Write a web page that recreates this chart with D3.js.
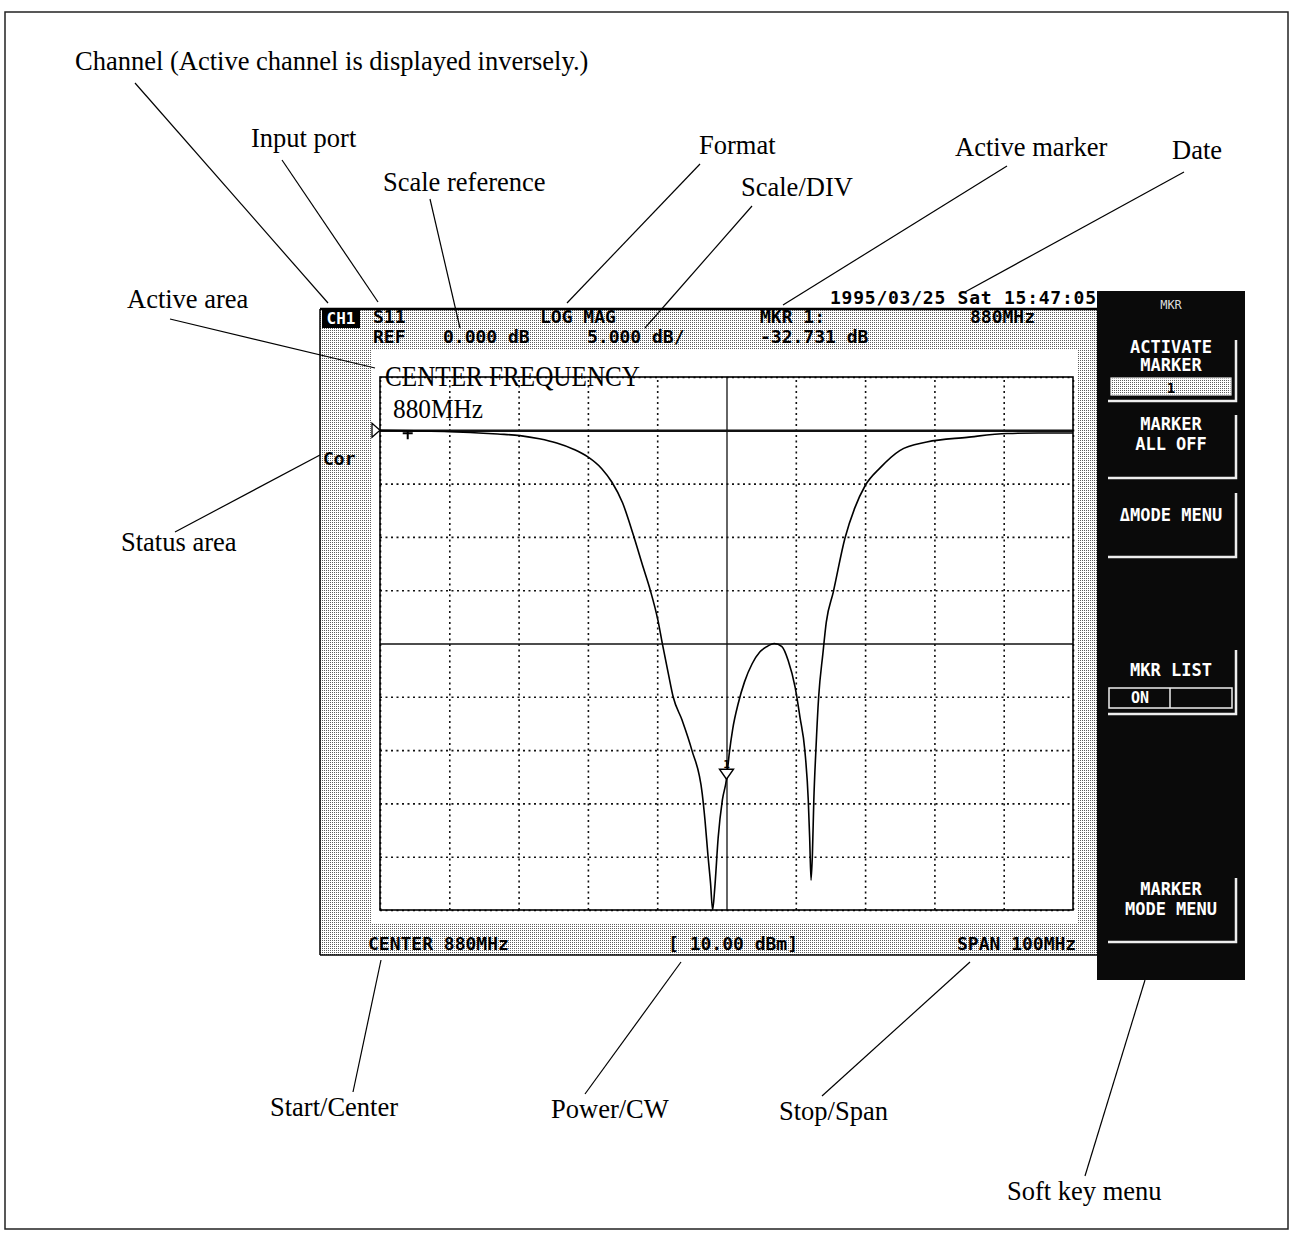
<!DOCTYPE html>
<html>
<head>
<meta charset="utf-8">
<script src="https://cdn.jsdelivr.net/npm/d3@7"></script>
<style>
  body { margin: 0; background: #fff; }
</style>
</head>
<body>
<div id="chart"></div>
<script>
// S11 trace, LOG MAG, center 880 MHz, span 100 MHz
var freqMHz = [830.0, 835.0, 840.0, 843.0, 847.0, 850.2, 853.0, 855.5, 858.0, 860.0,
  862.0, 863.5, 865.0, 866.5, 868.0, 869.0, 870.1, 870.8, 871.6, 872.3,
  873.6, 875.0, 876.5, 876.9, 877.3, 877.7, 878.0, 878.3, 878.8, 879.4,
  880.0, 880.4, 880.9, 881.7, 882.6, 883.7, 884.8, 885.8, 886.9, 888.0, 888.9,
  889.9, 890.6, 891.3, 891.8, 892.0, 892.2, 892.4, 892.6, 892.9, 893.3,
  893.9, 894.4, 895.4, 897.1, 898.5, 900.0, 902.2, 905.0, 908.9, 914.7,
  920.5, 925.0, 930.0];
var s11dB = [0.0, -0.05, -0.12, -0.2, -0.35, -0.5, -0.8, -1.2, -1.8, -2.5,
  -3.6, -4.9, -6.8, -9.7, -12.9, -15.0, -17.8, -20.2, -22.8, -25.0,
  -27.2, -30.0, -34.1, -36.6, -39.7, -42.5, -45.0, -43.0, -38.2, -34.7,
  -32.731, -30.3, -28.0, -25.6, -23.6, -21.9, -20.8, -20.3, -20.0, -20.3, -21.6,
  -24.1, -26.9, -30.0, -34.7, -38.2, -42.2, -39.7, -34.7, -30.0, -25.0,
  -21.0, -18.0, -15.2, -10.1, -7.3, -5.2, -3.5, -1.9, -1.1, -0.66,
  -0.3, -0.25, -0.25];

var xTicks = [830, 840, 850, 860, 870, 880, 890, 900, 910, 920, 930];
var yTicks = [5, 0, -5, -10, -15, -20, -25, -30, -35, -40, -45];
var refDb = 0;
var centerDb = -20;
var centerMHz = 880;
var markerMHz = [880];
var markerDb = [-32.731];

var headerText = ["S11", "REF", "0.000 dB", "LOG MAG", "5.000 dB/", "MKR 1:", "-32.731 dB", "880MHz"];
var dateText = "1995/03/25 Sat 15:47:05";
var footerText = ["CENTER 880MHz", "[ 10.00 dBm]", "SPAN 100MHz"];
var softKeys = [["ACTIVATE", "MARKER"], ["MARKER", "ALL OFF"], ["\u0394MODE MENU"], ["MKR LIST"], ["MARKER", "MODE MENU"]];
var callouts = ["Channel (Active channel is displayed inversely.)", "Input port", "Scale reference",
  "Format", "Scale/DIV", "Active marker", "Date", "Active area", "Status area",
  "Start/Center", "Power/CW", "Stop/Span", "Soft key menu"];

window.onload = function() {
  var w = 1297, h = 1234;
  var svg = d3.select("#chart").append("svg")
    .attr("width", w).attr("height", h);

  var mono = "'DejaVu Sans Mono', 'Liberation Mono', monospace";
  var serif = "'Liberation Serif', 'DejaVu Serif', serif";

  // halftone pattern for the screen background
  var defs = svg.append("defs");
  var pat = defs.append("pattern").attr("id", "dots")
    .attr("width", 2).attr("height", 2).attr("patternUnits", "userSpaceOnUse");
  pat.append("rect").attr("width", 2).attr("height", 2).attr("fill", "#fff");
  pat.append("rect").attr("width", 1).attr("height", 1).attr("fill", "#5e5e5e");

  // outer frame
  svg.append("rect").attr("x", 5).attr("y", 12).attr("width", 1283).attr("height", 1217)
    .attr("fill", "none").attr("stroke", "#222").attr("stroke-width", 1.5);

  // screen
  svg.append("rect").attr("x", 320).attr("y", 309).attr("width", 777).attr("height", 646)
    .attr("fill", "url(#dots)");
  svg.append("rect").attr("x", 372).attr("y", 350).attr("width", 706).attr("height", 574)
    .attr("fill", "#fff");
  svg.append("line").attr("x1", 320).attr("x2", 1097).attr("y1", 309).attr("y2", 309)
    .attr("stroke", "#000").attr("stroke-width", 2.5);
  svg.append("line").attr("x1", 320).attr("x2", 320).attr("y1", 309).attr("y2", 955)
    .attr("stroke", "#000").attr("stroke-width", 1.5);
  svg.append("line").attr("x1", 320).attr("x2", 1097).attr("y1", 955).attr("y2", 955)
    .attr("stroke", "#000").attr("stroke-width", 1.5);

  // plot area
  var left = 380, right = 1073, top = 377, bottom = 910;
  var xScale = d3.scaleLinear().domain([830, 930]).range([left, right]);
  var yScale = d3.scaleLinear().domain([5, -45]).range([top, bottom]);

  var gx = svg.append("g").attr("transform", "translate(0," + bottom + ")")
    .call(d3.axisBottom(xScale).tickValues(xTicks).tickSize(-(bottom - top)).tickFormat(""));
  var gy = svg.append("g").attr("transform", "translate(" + left + ",0)")
    .call(d3.axisLeft(yScale).tickValues(yTicks).tickSize(-(right - left)).tickFormat(""));
  [gx, gy].forEach(function(g) {
    g.select(".domain").remove();
    g.selectAll("line").attr("stroke", "#111").attr("stroke-width", 1.6)
      .attr("stroke-dasharray", "2,3.5");
  });
  gx.selectAll(".tick").filter(function(d) { return d === centerMHz; })
    .select("line").attr("stroke-dasharray", null).attr("stroke-width", 1.3);
  gy.selectAll(".tick").filter(function(d) { return d === centerDb || d === refDb; })
    .select("line").attr("stroke-dasharray", null).attr("stroke-width", 1.6);
  gy.selectAll(".tick").filter(function(d) { return d === refDb; })
    .select("line").attr("stroke-width", 2.4);

  svg.append("rect").attr("x", left).attr("y", top)
    .attr("width", right - left).attr("height", bottom - top)
    .attr("fill", "none").attr("stroke", "#000").attr("stroke-width", 1.6);

  // trace
  var trace = freqMHz.map(function(f, i) { return { f: f, db: s11dB[i] }; });
  var line = d3.line()
    .x(function(d) { return xScale(d.f); })
    .y(function(d) { return yScale(d.db); })
    .curve(d3.curveMonotoneX);
  svg.append("path").datum(trace).attr("d", line)
    .attr("fill", "none").attr("stroke", "#000").attr("stroke-width", 1.6);

  // reference triangle
  var ry = yScale(refDb);
  svg.append("path")
    .attr("d", "M" + (left - 8) + "," + (ry - 7) + "L" + left + "," + ry + "L" + (left - 8) + "," + (ry + 7) + "Z")
    .attr("fill", "#fff").attr("stroke", "#000").attr("stroke-width", 1.3);
  // small cross on trace start
  var cx0 = xScale(834), cy0 = yScale(refDb) + 3;
  svg.append("path")
    .attr("d", "M" + (cx0 - 5) + "," + cy0 + "H" + (cx0 + 5) + "M" + cx0 + "," + (cy0 - 3) + "V" + (cy0 + 6))
    .attr("stroke", "#000").attr("stroke-width", 2);

  // active marker
  markerMHz.forEach(function(f, i) {
    var mx = xScale(f), my = yScale(markerDb[i]);
    svg.append("path")
      .attr("d", "M" + (mx - 7) + "," + (my - 10) + "H" + (mx + 7) + "L" + mx + "," + my + "Z")
      .attr("fill", "#fff").attr("stroke", "#000").attr("stroke-width", 1.4);
    svg.append("text").attr("x", mx).attr("y", my - 11).attr("text-anchor", "middle")
      .style("font-family", mono).style("font-weight", "bold").style("font-size", "11px")
      .text(i + 1);
  });

  // active area text
  svg.append("text").attr("x", 385).attr("y", 386)
    .attr("textLength", 255).attr("lengthAdjust", "spacingAndGlyphs")
    .style("font-family", serif).style("font-size", "29px").text("CENTER FREQUENCY");
  svg.append("text").attr("x", 393).attr("y", 418)
    .attr("textLength", 90).attr("lengthAdjust", "spacingAndGlyphs")
    .style("font-family", serif).style("font-size", "28px").text("880MHz");

  // header / footer
  function scr(x, y, t) {
    return svg.append("text").attr("x", x).attr("y", y)
      .style("font-family", mono).style("font-weight", "bold").style("font-size", "18px")
      .attr("fill", "#000").text(t);
  }
  svg.append("rect").attr("x", 322).attr("y", 308).attr("width", 38).attr("height", 20).attr("fill", "#000");
  svg.append("text").attr("x", 341).attr("y", 324).attr("text-anchor", "middle")
    .style("font-family", mono).style("font-weight", "bold").style("font-size", "16px")
    .attr("fill", "#fff").text("CH1");
  var hdrPos = [[373, 323], [373, 343], [443, 343], [540, 323], [587, 343], [760, 323], [760, 343], [970, 323]];
  headerText.forEach(function(t, i) { scr(hdrPos[i][0], hdrPos[i][1], t); });
  scr(830, 304, dateText).attr("textLength", 266).attr("lengthAdjust", "spacing");
  var ftrPos = [368, 668, 957];
  footerText.forEach(function(t, i) { scr(ftrPos[i], 950, t); });
  scr(323, 465, "Cor");

  // soft key panel
  svg.append("rect").attr("x", 1097).attr("y", 291).attr("width", 148).attr("height", 689).attr("fill", "#0a0a0a");
  svg.append("text").attr("x", 1171).attr("y", 309).attr("text-anchor", "middle")
    .style("font-family", mono).style("font-size", "12px").attr("fill", "#ddd").text("MKR");
  var keyBox = [[340, 401], [415, 478], [493, 557], [650, 714], [878, 942]];
  var keyTextY = [[353, 371], [430, 450], [521], [676], [895, 915]];
  softKeys.forEach(function(lines, k) {
    var b = keyBox[k];
    svg.append("path")
      .attr("d", "M1236," + b[0] + "V" + b[1] + "H1108")
      .attr("fill", "none").attr("stroke", "#eee").attr("stroke-width", 2.5);
    lines.forEach(function(t, j) {
      svg.append("text").attr("x", 1171).attr("y", keyTextY[k][j]).attr("text-anchor", "middle")
        .style("font-family", mono).style("font-weight", "bold").style("font-size", "17px")
        .attr("fill", "#fff").text(t);
    });
  });
  // activate marker bar
  svg.append("rect").attr("x", 1111).attr("y", 378).attr("width", 120).attr("height", 17)
    .attr("fill", "url(#dots)").attr("stroke", "#eee").attr("stroke-width", 1.2);
  svg.append("text").attr("x", 1171).attr("y", 393).attr("text-anchor", "middle")
    .style("font-family", mono).style("font-weight", "bold").style("font-size", "14px")
    .attr("fill", "#000").text("1");
  // MKR LIST on/off box
  svg.append("rect").attr("x", 1109).attr("y", 688).attr("width", 123).attr("height", 20)
    .attr("fill", "none").attr("stroke", "#eee").attr("stroke-width", 1.5);
  svg.append("line").attr("x1", 1170).attr("x2", 1170).attr("y1", 688).attr("y2", 708)
    .attr("stroke", "#eee").attr("stroke-width", 1.5);
  svg.append("text").attr("x", 1140).attr("y", 703).attr("text-anchor", "middle")
    .style("font-family", mono).style("font-weight", "bold").style("font-size", "15px")
    .attr("fill", "#fff").text("ON");

  // callout labels and leader lines
  var calloutPos = [
    [75, 70, 135, 83, 328, 303],
    [251, 147, 282, 160, 378, 302],
    [383, 191, 430, 199, 460, 328],
    [699, 154, 700, 164, 567, 303],
    [741, 196, 752, 206, 645, 328],
    [955, 156, 1007, 166, 783, 305],
    [1172, 159, 1184, 172, 965, 292],
    [127, 308, 170, 319, 375, 368],
    [121, 551, 175, 532, 320, 455],
    [270, 1116, 353, 1092, 381, 960],
    [551, 1118, 585, 1094, 681, 962],
    [779, 1120, 822, 1096, 970, 962],
    [1007, 1200, 1085, 1176, 1145, 980]
  ];
  callouts.forEach(function(t, i) {
    var p = calloutPos[i];
    svg.append("text").attr("x", p[0]).attr("y", p[1])
      .style("font-family", serif).style("font-size", "26.5px").attr("fill", "#000").text(t);
    svg.append("line").attr("x1", p[2]).attr("y1", p[3]).attr("x2", p[4]).attr("y2", p[5])
      .attr("stroke", "#000").attr("stroke-width", 1.2);
  });
};
</script>
</body>
</html>
